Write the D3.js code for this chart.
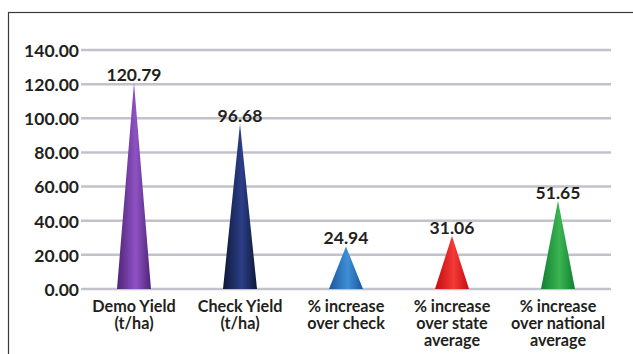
<!DOCTYPE html>
<html>
<head>
<meta charset="utf-8">
<script src="https://cdn.jsdelivr.net/npm/d3@7"></script>
<style>
  html, body { margin: 0; padding: 0; background: #fff; }
  svg { display: block; }
  text { font-family: Lato, "Open Sans", sans-serif; font-weight: 700; fill: #231f20; }
</style>
</head>
<body>
<svg id="chart" width="633" height="354"></svg>
<script>
// Yield demonstration results
const categories = [
  ["Demo Yield", "(t/ha)"],
  ["Check Yield", "(t/ha)"],
  ["% increase", "over check"],
  ["% increase", "over state", "average"],
  ["% increase", "over national", "average"]
];
const values = [120.79, 96.68, 24.94, 31.06, 51.65];
const tickValues = [0, 20, 40, 60, 80, 100, 120, 140];
// [edge, highlight] colour pairs for each cone
const coneColors = [
  ["#4f2478", "#8f52c4"],
  ["#0e1838", "#2c3f88"],
  ["#17579e", "#3f8fd6"],
  ["#c40c10", "#f43a36"],
  ["#0f8030", "#3cb452"]
];

const svg = d3.select("#chart");
const W = 633, H = 354;
const NUM_FS = "17.5px";
const CAT_FS = "16.2px";

// outer frame (runs off the right and bottom edges)
svg.append("rect")
  .attr("x", 8.5).attr("y", 12.5)
  .attr("width", W).attr("height", H)
  .attr("fill", "none").attr("stroke", "#3a3a3a").attr("stroke-width", 1.2);

const x = d3.scaleBand().domain(d3.range(categories.length)).range([81, 611]);
const y = d3.scaleLinear().domain([0, 140]).range([289, 50]);

// gradients
const defs = svg.append("defs");
coneColors.forEach((c, i) => {
  const g = defs.append("linearGradient").attr("id", "cone" + i)
    .attr("x1", "0").attr("x2", "1").attr("y1", "0").attr("y2", "0");
  g.append("stop").attr("offset", "0%").attr("stop-color", c[0]);
  g.append("stop").attr("offset", "55%").attr("stop-color", c[1]);
  g.append("stop").attr("offset", "100%").attr("stop-color", c[0]);
});

// gridlines
svg.append("g").selectAll("line").data(tickValues).join("line")
  .attr("x1", 81).attr("x2", 611)
  .attr("y1", d => y(d)).attr("y2", d => y(d))
  .attr("stroke", "#c2c2ca").attr("stroke-width", 2.5);

// y axis labels
const yAxis = d3.axisLeft(y).tickValues(tickValues).tickFormat(d3.format(".2f")).tickSize(0).tickPadding(0);
const ya = svg.append("g").attr("transform", "translate(79,0)").call(yAxis);
ya.select(".domain").remove();
ya.selectAll("text").style("font-size", NUM_FS).attr("fill", "#231f20")
  .style("font-family", "Lato, sans-serif").style("font-weight", 700).attr("dy", "0.36em");

// cones
const baseW = 34;
svg.append("g").selectAll("path").data(values).join("path")
  .attr("d", (v, i) => {
    const cx = x(i) + x.bandwidth() / 2;
    return `M${cx - baseW / 2},${y(0)} L${cx},${y(v)} L${cx + baseW / 2},${y(0)} Z`;
  })
  .attr("fill", (v, i) => `url(#cone${i})`);

// value labels
svg.append("g").selectAll("text").data(values).join("text")
  .attr("x", (v, i) => x(i) + x.bandwidth() / 2)
  .attr("y", v => y(v) - 2)
  .attr("text-anchor", "middle")
  .style("font-size", NUM_FS)
  .text(v => v.toFixed(2));

// category labels
const cat = svg.append("g").selectAll("text").data(categories).join("text")
  .attr("text-anchor", "middle")
  .style("font-size", CAT_FS)
  .attr("transform", (c, i) => `translate(${x(i) + x.bandwidth() / 2},312)`);
cat.selectAll("tspan").data(d => d).join("tspan")
  .attr("x", 0).attr("dy", (d, j) => j === 0 ? 0 : 17)
  .text(d => d);
</script>
</body>
</html>
